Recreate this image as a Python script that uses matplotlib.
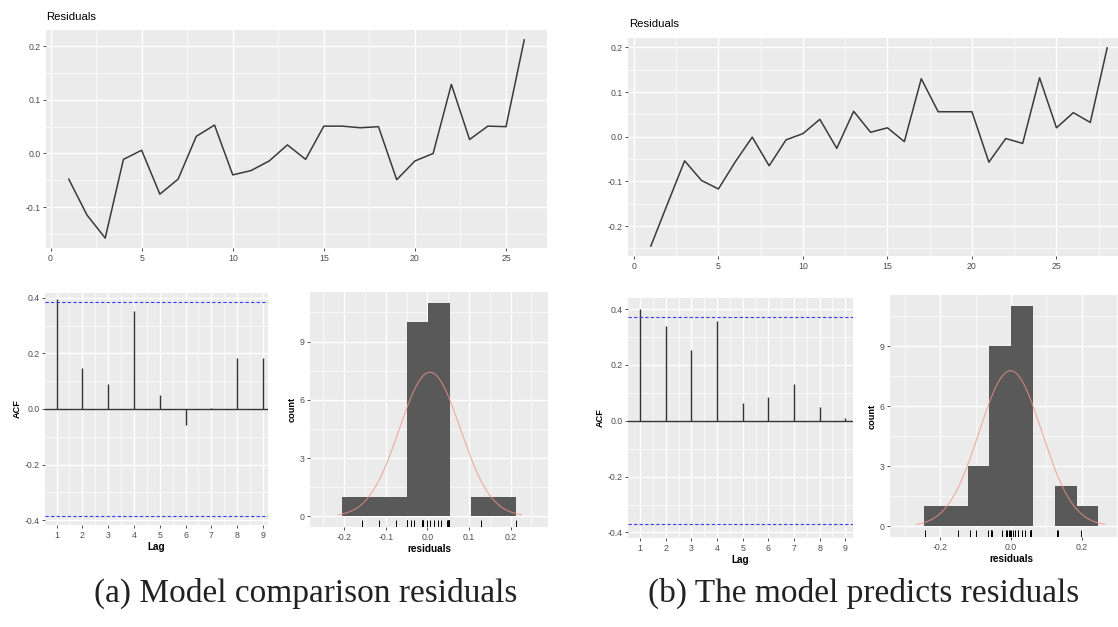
import numpy as np
import matplotlib
matplotlib.use("Agg")
import matplotlib.pyplot as plt
from matplotlib.ticker import FixedLocator

# ---------------- data ----------------
resid_a = [-0.048, -0.115, -0.158, -0.011, 0.006, -0.076, -0.048, 0.032, 0.053,
           -0.040, -0.032, -0.014, 0.016, -0.011, 0.051, 0.051, 0.048, 0.050,
           -0.049, -0.014, 0.000, 0.129, 0.026, 0.051, 0.050, 0.212]
resid_b = [-0.245, -0.149, -0.054, -0.098, -0.117, -0.056, -0.001, -0.065, -0.007,
           0.007, 0.039, -0.026, 0.057, 0.010, 0.020, -0.011, 0.130, 0.056,
           0.056, 0.056, -0.057, -0.004, -0.015, 0.132, 0.020, 0.054, 0.032, 0.199]
lags = [1, 2, 3, 4, 5, 6, 7, 8, 9]
acf_a = [0.396, 0.148, 0.091, 0.352, 0.052, -0.056, 0.005, 0.184, 0.184]
acf_b = [0.402, 0.340, 0.254, 0.358, 0.063, 0.087, 0.131, 0.048, 0.010]
bins_a = [-0.206, -0.154, -0.102, -0.050, 0.002, 0.054, 0.106, 0.158, 0.214]
bins_b = [-0.246, -0.184, -0.122, -0.061, 0.000, 0.062, 0.124, 0.186, 0.248]
caption_a = "(a) Model comparison residuals"
caption_b = "(b) The model predicts residuals"

# ---------------- style ----------------
plt.rcParams["font.family"] = ["Liberation Sans", "DejaVu Sans"]
W, H = 1118, 627
fig = plt.figure(figsize=(W / 100, H / 100), dpi=100)
fig.patch.set_facecolor("white")

PANEL = "#EBEBEB"
TXT = "#4D4D4D"
TICK_FS = 6.3
LAB_FS = 7.2


def add_ax(x0, y0, x1, y1):
    return fig.add_axes([x0 / W, 1 - y1 / H, (x1 - x0) / W, (y1 - y0) / H])


def gg(ax, xmaj, ymaj, xmin, ymin, xlabels=None, ylabels=None):
    ax.set_facecolor(PANEL)
    for s in ax.spines.values():
        s.set_visible(False)
    ax.xaxis.set_major_locator(FixedLocator(xmaj))
    ax.yaxis.set_major_locator(FixedLocator(ymaj))
    ax.xaxis.set_minor_locator(FixedLocator(xmin))
    ax.yaxis.set_minor_locator(FixedLocator(ymin))
    if xlabels is not None:
        ax.set_xticklabels(xlabels)
    if ylabels is not None:
        ax.set_yticklabels(ylabels)
    ax.grid(which="major", color="white", lw=1.0)
    ax.grid(which="minor", color="white", lw=0.5)
    ax.set_axisbelow(True)
    ax.tick_params(which="major", length=2.5, width=0.6, color="#333333",
                   labelsize=TICK_FS, labelcolor=TXT, pad=1.5)
    ax.tick_params(which="minor", length=0)


def fmt(v):
    return f"{v:.1f}".replace("-0.0", "0.0")


def residual_panel(box, data, yticks, title, title_xy):
    ax = add_ax(*box)
    t = np.arange(1, len(data) + 1)
    ax.plot(t, data, color="#3a3a3a", lw=1.1)
    n = len(data)
    ax.set_xlim(1 - 0.05 * (n - 1), n + 0.05 * (n - 1))
    rng = max(data) - min(data)
    ax.set_ylim(min(data) - 0.05 * rng, max(data) + 0.05 * rng)
    gg(ax, [0, 5, 10, 15, 20, 25], yticks,
       [2.5, 7.5, 12.5, 17.5, 22.5, 27.5],
       [y + 0.05 for y in yticks] + [yticks[0] - 0.05],
       xlabels=["0", "5", "10", "15", "20", "25"],
       ylabels=[fmt(y) for y in yticks])
    fig.text(title_xy[0] / W, 1 - title_xy[1] / H, title, fontsize=8.2,
             color="black", va="center", ha="left")
    return ax


def acf_panel(box, vals, n, ylim, xlim):
    ax = add_ax(*box)
    ci = 1.96 / np.sqrt(n)
    ax.vlines(lags, 0, vals, color="#333333", lw=1.0)
    ax.axhline(0, color="#333333", lw=1.0)
    ax.axhline(ci, color="#3a3aff", lw=0.8, ls=(0, (3, 2)))
    ax.axhline(-ci, color="#3a3aff", lw=0.8, ls=(0, (3, 2)))
    ax.set_xlim(*xlim)
    ax.set_ylim(*ylim)
    yt = [-0.4, -0.2, 0.0, 0.2, 0.4]
    gg(ax, lags, yt, [l + 0.5 for l in lags[:-1]], [-0.3, -0.1, 0.1, 0.3],
       xlabels=[str(l) for l in lags], ylabels=[fmt(y) for y in yt])
    ax.set_xlabel("Lag", fontsize=LAB_FS, fontweight="bold", labelpad=2)
    ax.set_ylabel("ACF", fontsize=LAB_FS - 0.6, fontweight="bold", labelpad=2)
    return ax


def hist_panel(box, data, bins, xlim, xt, xtl, xminor):
    ax = add_ax(*box)
    data = np.asarray(data)
    ax.hist(data, bins=bins, color="#595959", edgecolor="none")
    bw = np.mean(np.diff(bins))
    m, s = data.mean(), data.std(ddof=1)
    xg = np.linspace(m - 3 * s, m + 3 * s, 300)
    yg = len(data) * bw * np.exp(-0.5 * ((xg - m) / s) ** 2) / (s * np.sqrt(2 * np.pi))
    ax.plot(xg, yg, color="#f0948a", lw=0.8, alpha=0.75)
    ax.set_xlim(*xlim)
    ax.set_ylim(-0.55, 11.55)
    # rug
    ax.vlines(data, -0.55, -0.55 + 0.03 * 12.1, color="black", lw=0.7)
    gg(ax, xt, [0, 3, 6, 9], xminor, [1.5, 4.5, 7.5, 10.5],
       xlabels=xtl, ylabels=["0", "3", "6", "9"])
    ax.set_xlabel("residuals", fontsize=LAB_FS, fontweight="bold", labelpad=2)
    ax.set_ylabel("count", fontsize=LAB_FS - 0.6, fontweight="bold", labelpad=2)
    return ax


# ---------------- panel (a) ----------------
residual_panel((46, 30, 547, 248), resid_a, [-0.1, 0.0, 0.1, 0.2], "Residuals", (46, 17))
acf_panel((45, 293, 268, 525), acf_a, len(resid_a), (-0.418, 0.418), (0.55, 9.2))
hist_panel((310, 292, 548, 527), resid_a, bins_a, (-0.282, 0.29),
           [-0.2, -0.1, 0.0, 0.1, 0.2], ["-0.2", "-0.1", "0.0", "0.1", "0.2"],
           [-0.25, -0.15, -0.05, 0.05, 0.15, 0.25])

# ---------------- panel (b) ----------------
residual_panel((628, 38, 1130, 256), resid_b, [-0.2, -0.1, 0.0, 0.1, 0.2], "Residuals", (629, 24))
acf_panel((628, 298, 853, 538), acf_b, len(resid_b), (-0.42, 0.44), (0.53, 9.3))
hist_panel((890, 295, 1132, 537), resid_b, bins_b, (-0.343, 0.343),
           [-0.2, 0.0, 0.2], ["-0.2", "0.0", "0.2"], [-0.3, -0.1, 0.1, 0.3])

# ---------------- captions ----------------
fig.text(94 / W, 1 - 593 / H, caption_a, fontsize=24, family=["Liberation Serif", "DejaVu Serif"],
         color="#222222", va="center", ha="left")
fig.text(648 / W, 1 - 593 / H, caption_b, fontsize=24, family=["Liberation Serif", "DejaVu Serif"],
         color="#222222", va="center", ha="left")

fig.savefig("out.png", dpi=100, facecolor="white")
